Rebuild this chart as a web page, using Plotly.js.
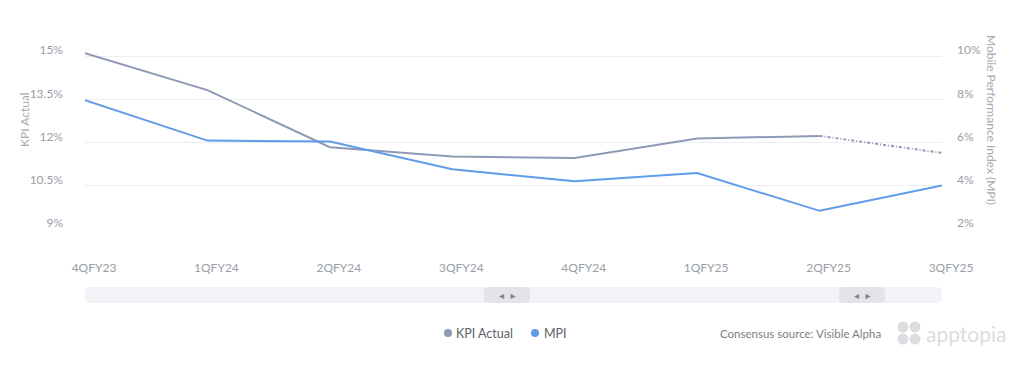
<!DOCTYPE html>
<html>
<head>
<meta charset="utf-8">
<script src="https://cdn.plot.ly/plotly-3.0.1.min.js"></script>
<style>
html,body{margin:0;padding:0;background:#fff;}
#chart{width:1024px;height:367px;}
</style>
</head>
<body>
<div id="chart"></div>
<script>
// ---- data ----
const quarters = ["4QFY23","1QFY24","2QFY24","3QFY24","4QFY24","1QFY25","2QFY25","3QFY25"];
const kpiActual = [15.10, 13.82, 11.84, 11.52, 11.46, 12.14, 12.23, 11.64];
const mpi = [7.96, 6.09, 6.05, 4.76, 4.21, 4.59, 2.84, 4.01];
const forecastFrom = 6; // last KPI segment (2QFY25 -> 3QFY25) drawn dotted
const leftTicks = [9, 10.5, 12, 13.5, 15, 16.5];
const leftTickText = ["9%", "10.5%", "12%", "13.5%", "15%", ""];
const rightTicks = [2, 4, 6, 8, 10, 12];
const rightTickText = ["2%", "4%", "6%", "8%", "10%", ""];
const seriesNames = ["KPI Actual", "MPI"];

const kpiColor = "#8e9ab5";
const mpiColor = "#5f9de8";
const tickColor = "#9a9ea6";
const font = "Lato, 'Open Sans', sans-serif";

const traces = [
  {x: quarters.slice(0, forecastFrom + 1), y: kpiActual.slice(0, forecastFrom + 1), name: seriesNames[0],
   type: "scatter", mode: "lines", line: {color: kpiColor, width: 2}, showlegend: false, yaxis: "y"},
  {x: quarters.slice(forecastFrom), y: kpiActual.slice(forecastFrom), name: seriesNames[0],
   type: "scatter", mode: "lines", line: {color: kpiColor, width: 2, dash: "3px,2px,1px,2px"},
   showlegend: false, yaxis: "y"},
  {x: quarters, y: mpi, type: "scatter", mode: "lines", name: seriesNames[1],
   line: {color: mpiColor, width: 2}, showlegend: false, yaxis: "y2"}
];

// plot area: x 85..942, y 12..229
const L = 85, R = 942, T = 12, B = 229;
const pw = R - L, ph = B - T;
const px = v => (v - L) / pw;
const py = v => (B - v) / ph;

function rrect(x0, y0, x1, y1, r) {
  const rx = r / pw, ry = r / ph;
  const a = px(x0), b = px(x1), c = py(y1), d = py(y0);
  return `M${a+rx},${d} L${b-rx},${d} Q${b},${d} ${b},${d-ry} L${b},${c+ry} Q${b},${c} ${b-rx},${c} ` +
         `L${a+rx},${c} Q${a},${c} ${a},${c+ry} L${a},${d-ry} Q${a},${d} ${a+rx},${d} Z`;
}
function dot(cx, cy, r, color) {
  return {type: "circle", xref: "paper", yref: "paper",
    x0: px(cx - r), x1: px(cx + r), y0: py(cy + r), y1: py(cy - r),
    fillcolor: color, line: {width: 0}};
}

const shapes = [
  {type: "path", xref: "paper", yref: "paper", path: rrect(85, 287, 942, 303, 5),
   fillcolor: "#f2f3f6", line: {width: 0}, layer: "below"},
  {type: "path", xref: "paper", yref: "paper", path: rrect(484, 287, 530, 303, 4),
   fillcolor: "#e2e4e9", line: {width: 0}},
  {type: "path", xref: "paper", yref: "paper", path: rrect(839, 287, 885, 303, 4),
   fillcolor: "#e2e4e9", line: {width: 0}},
  dot(448, 333, 4, kpiColor),
  dot(535, 333, 4, mpiColor)
];
[[903, 327], [915, 327], [903, 339], [915, 339]].forEach(([cx, cy]) => shapes.push(dot(cx, cy, 5.5, "#dcdde0")));

const ann = (text, x, y, extra) => Object.assign({text, xref: "paper", yref: "paper", x: px(x), y: py(y),
  xanchor: "center", yanchor: "middle", showarrow: false}, extra);

const annotations = [
  ann("KPI Actual", 25, 120, {textangle: -90, font: {family: font, size: 12, color: "#a3a9b5"}}),
  ann("Mobile Performance Index (MPI)", 991, 120, {textangle: 90, font: {family: font, size: 12, color: "#a3a9b5"}}),
  ann("◂&nbsp;&nbsp;▸", 507, 295, {font: {family: "DejaVu Sans", size: 10, color: "#7d828c"}}),
  ann("◂&nbsp;&nbsp;▸", 862, 295, {font: {family: "DejaVu Sans", size: 10, color: "#7d828c"}}),
  ann(seriesNames[0], 454, 333, {xanchor: "left", font: {family: font, size: 12.5, color: "#5c6068"}}),
  ann(seriesNames[1], 542, 333, {xanchor: "left", font: {family: font, size: 12.5, color: "#5c6068"}}),
  ann("Consensus source: Visible Alpha", 718, 333, {xanchor: "left", font: {family: font, size: 11.5, color: "#7a7f88"}}),
  ann("apptopia", 924, 333, {xanchor: "left", font: {family: font, size: 21, color: "#dcdde0"}})
];

const layout = {
  width: 1024, height: 367,
  margin: {l: L, r: 1024 - R, t: T, b: 367 - B, pad: 0},
  paper_bgcolor: "#ffffff", plot_bgcolor: "#ffffff",
  font: {family: font, size: 12, color: tickColor},
  showlegend: false,
  xaxis: {type: "category", categoryorder: "array", categoryarray: quarters,
    range: [0, quarters.length - 1], showgrid: false, zeroline: false, showline: false,
    ticks: "", tickfont: {family: font, size: 12, color: tickColor},
    ticklabelstandoff: 30, ticklabelshift: 9, fixedrange: true},
  yaxis: {range: [9, 16.53], tickvals: leftTicks, ticktext: leftTickText,
    showgrid: true, gridcolor: "#eceef3", gridwidth: 1, zeroline: false, showline: false,
    ticks: "", tickfont: {family: font, size: 12, color: tickColor},
    ticklabelstandoff: 21, ticklabelshift: -6, fixedrange: true},
  yaxis2: {overlaying: "y", side: "right", range: [2, 12.04], tickvals: rightTicks, ticktext: rightTickText,
    showgrid: false, zeroline: false, showline: false, ticks: "",
    tickfont: {family: font, size: 12, color: tickColor},
    ticklabelstandoff: 14, ticklabelshift: -6, fixedrange: true},
  shapes: shapes,
  annotations: annotations
};

Plotly.newPlot("chart", traces, layout, {displayModeBar: false, staticPlot: true});
</script>
</body>
</html>
